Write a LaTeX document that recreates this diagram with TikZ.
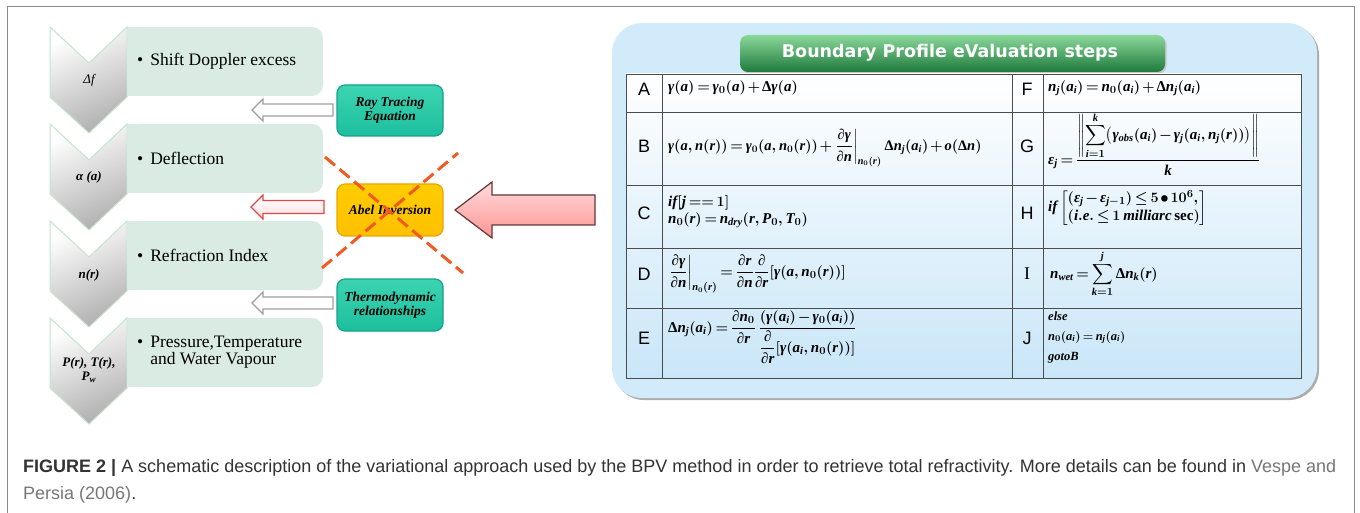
\documentclass[tikz,border=0pt]{standalone}
\usepackage{fontspec}
\usepackage{amsmath}
\setmainfont{Liberation Serif}
\setsansfont{Liberation Sans}
\newfontfamily\titlefont{DejaVu Sans}
\makeatletter
\edef\tmfam{\rmdefault}
\DeclareSymbolFont{tlet}{TU}{\tmfam}{b}{it}
\SetSymbolFont{tlet}{bold}{TU}{\tmfam}{b}{it}
\DeclareSymbolFont{tup}{TU}{\tmfam}{b}{n}
\SetSymbolFont{tup}{bold}{TU}{\tmfam}{b}{n}
\newcount\mycnt
\mycnt=`a\relax
\loop \Umathcode\mycnt=7 \symtlet \mycnt\relax \ifnum\mycnt<`z\relax \advance\mycnt 1\relax \repeat
\mycnt=`A\relax
\loop \Umathcode\mycnt=7 \symtlet \mycnt\relax \ifnum\mycnt<`Z\relax \advance\mycnt 1\relax \repeat
\Umathchardef\mgamma=7 \symtlet "03B3\relax
\Umathchardef\meps=7 \symtlet "03B5\relax
\Umathchardef\mDelta=0 \symtup "0394\relax
\Umathchardef\mpartial=0 \symtlet "2202\relax
\makeatother
\newcommand\fsp{\thickmuskip=3mu\relax\medmuskip=2mu\relax}
\definecolor{boxgreen}{HTML}{D9EBE2}
\definecolor{chevline}{HTML}{C4E4D2}
\definecolor{tealfill}{HTML}{1DBF9E}
\definecolor{tealtop}{HTML}{3CD4B2}
\definecolor{tealline}{HTML}{13A386}
\definecolor{goldfill}{HTML}{FFC000}
\definecolor{goldline}{HTML}{E8A600}
\definecolor{dashred}{HTML}{F05A24}
\definecolor{panelblue}{HTML}{D2EBFA}
\definecolor{tableblue}{HTML}{C9E6F8}
\definecolor{tabtop}{HTML}{8AD89A}
\definecolor{tabbot}{HTML}{1E7A3C}
\definecolor{framegray}{HTML}{8A8A8A}
\definecolor{captext}{HTML}{333333}
\definecolor{capgray}{HTML}{777777}
\definecolor{redline}{HTML}{E04848}
\begin{document}
\begin{tikzpicture}[x=1pt,y=-1pt,
  chev/.style={top color=white, bottom color=gray!62, shading angle=25, draw=chevline, line width=1},
  boxtext/.style={anchor=west, inner sep=0pt, font=\fontsize{17.5}{20}\selectfont, align=left},
  chevlabel/.style={inner sep=0pt, font=\fontsize{13}{16}\selectfont\bfseries\itshape, align=center},
  tealbox/.style={draw=tealline, line width=1.2, top color=tealtop, bottom color=tealfill, rounded corners=8, minimum width=106, minimum height=51, inner sep=0pt, align=center, font=\fontsize{13.5}{14}\selectfont\bfseries\itshape},
  hollow/.style={fill=white, draw=gray!75, line width=1.2, line join=miter},
  letter/.style={inner sep=0pt, font=\sffamily\fontsize{18}{20}\selectfont},
  formula/.style={anchor=west, inner sep=0pt, font=\fontsize{15}{18}\selectfont\boldmath, align=left},
  tline/.style={draw=black!70, line width=0.8},
  xdash/.style={draw=dashred, line width=3, dash pattern=on 13pt off 6pt},
  caption/.style={anchor=base west, inner sep=0pt, font=\sffamily\fontsize{18}{22}\selectfont, text=captext}
]
\useasboundingbox (0,0) rectangle (1360,513);
\fill[white] (0,0) rectangle (1360,513);
% frame
\draw[framegray, line width=1.2] (7.5,513) -- (7.5,6.5) -- (1354.5,6.5) -- (1354.5,513);

% green boxes
\foreach \y in {27,124,221,318}{
  \fill[boxgreen, rounded corners=11] (128,\y) rectangle (323,\y+69);
  \fill[boxgreen] (128,\y) rectangle (200,\y+69);
}
% chevrons
\foreach \y in {27,124,221,318}{
  \shade[chev] (50,\y) -- (89,\y+36) -- (127,\y) -- (127,\y+70) -- (89,\y+106) -- (50,\y+70) -- cycle;
}
\node[chevlabel, font=\fontsize{13}{16}\selectfont\itshape] (l1) at (89,80) {Δf};
\node[chevlabel] (l2) at (89,177) {α (a)};
\node[chevlabel] (l3) at (89,275) {n(r)};
\node[chevlabel] (l4) at (89,370) {P(r), T(r),\\[-2pt] P\textsubscript{w}};

\node[boxtext] (b1) at (137,61) {\textbullet\hspace{7pt}Shift Doppler excess};
\node[boxtext] (b2) at (137,158) {\textbullet\hspace{7pt}Deflection};
\node[boxtext] (b3) at (137,255) {\textbullet\hspace{7pt}Refraction Index};
\node[boxtext] (b4) at (137,352) {\begin{tabular}{@{}l@{\hspace{7pt}}l@{}}\textbullet & Pressure,Temperature\\[-3pt] & and Water Vapour\end{tabular}};

% hollow arrows
\draw[hollow] (333,104) -- (263,104) -- (263,99) -- (252,110) -- (263,121) -- (263,116) -- (333,116) -- cycle;
\draw[hollow, draw=redline, top color=white, bottom color=red!12] (324,200.5) -- (263,200.5) -- (263,195) -- (251,207) -- (263,219) -- (263,213.5) -- (324,213.5) -- cycle;
\draw[hollow] (333,297) -- (263,297) -- (263,292) -- (252,303) -- (263,314) -- (263,309) -- (333,309) -- cycle;

% teal / gold boxes
\node[tealbox] (ray) at (390,110.5) {Ray Tracing\\Equation};
\node[tealbox, draw=goldline, top color=goldfill!80!yellow, bottom color=goldfill, minimum height=52] (abel) at (390,210) {Abel Inversion};
\node[tealbox, minimum height=52] (thermo) at (390,305) {Thermodynamic\\relationships};

% red dashed cross
\draw[xdash] (325,157) -- (463,273);
\draw[xdash] (322,268) -- (458,153);

% big arrow
\draw[draw=gray!70!red!60!black, line width=1.2, top color=red!14, middle color=red!3, bottom color=red!42, line join=miter]
  (595,195) -- (492,195) -- (492,182) -- (455,210) -- (492,238) -- (492,225) -- (595,225) -- cycle;

% right panel
\fill[gray!65, rounded corners=30] (614,25) rectangle (1319,400);
\fill[panelblue, rounded corners=30] (612,23) rectangle (1317,398);
\fill[gray!45, rounded corners=8] (741.5,36.5) rectangle (1166.5,73.5);
\shade[top color=tabtop, bottom color=tabbot, rounded corners=8] (740,35) rectangle (1165,72);
\node[inner sep=0pt, text=white, font=\titlefont\bfseries\fontsize{17.5}{20}\selectfont] (title) at (950,53) {Boundary Profile eValuation steps};

% table
\shade[top color=white, middle color=white, bottom color=tableblue] (626,74) rectangle (1301,378);
\draw[tline] (626,74) rectangle (1301,378);
\foreach \yy in {112,185,248,308}{\draw[tline] (626,\yy) -- (1301,\yy);}
\foreach \xx in {662,1012,1043}{\draw[tline] (\xx,74) -- (\xx,378);}

\node[letter] (A) at (644,89) {A};
\node[letter] (B) at (644,146) {B};
\node[letter] (C) at (644,213) {C};
\node[letter] (D) at (644,274) {D};
\node[letter] (E) at (644,338) {E};
\node[letter] (F) at (1027,89) {F};
\node[letter] (G) at (1027,146) {G};
\node[letter] (H) at (1027,213) {H};
\node[letter, font=\rmfamily\fontsize{18}{20}\selectfont] (I) at (1027,274) {I};
\node[letter] (J) at (1027,338) {J};

\node[formula] (fA) at (668,88) {\fsp$\mgamma(a)=\mgamma_0(a)+\mDelta\mgamma(a)$};
\node[formula, font=\fontsize{14.5}{18}\selectfont\boldmath] (fB) at (668,148) {\fsp$\mgamma(a,n(r))=\mgamma_0(a,n_0(r))+\left.\dfrac{\mpartial\mgamma}{\mpartial n}\right|_{n_0(r)}\mDelta n_j(a_i)+o(\mDelta n)$};
\node[formula] (fC) at (668,212) {\fsp$if[j==1]$\\[-1pt]\fsp$n_0(r)=n_{dry}(r,P_0,T_0)$};
\node[formula] (fD) at (668,274) {\fsp$\left.\dfrac{\mpartial\mgamma}{\mpartial n}\right|_{n_0(r)}=\dfrac{\mpartial r}{\mpartial n}\dfrac{\mpartial}{\mpartial r}[\mgamma(a,n_0(r))]$};
\node[formula] (fE) at (668,337) {\fsp$\mDelta n_j(a_i)=\dfrac{\mpartial n_0}{\mpartial r}\,\dfrac{(\mgamma(a_i)-\mgamma_0(a_i))}{\dfrac{\mpartial}{\mpartial r}[\mgamma(a_i,n_0(r))]}$};
\node[formula] (fF) at (1048,88) {\fsp$n_j(a_i)=n_0(a_i)+\mDelta n_j(a_i)$};
\node[formula] (fG) at (1048,144) {\fsp$\meps_j=\dfrac{\left\|\displaystyle\sum_{i=1}^{k}\bigl(\mgamma_{obs}(a_i)-\mgamma_j(a_i,n_j(r))\bigr)\right\|}{k}$};
\node[formula] (fH) at (1048,208) {\fsp$if\left[\begin{array}{@{}l@{}}(\meps_j-\meps_{j-1})\le 5\bullet 10^6,\\ (i.e.\le 1\,milliarc\,\mathrm{sec})\end{array}\right]$};
\node[formula] (fI) at (1050,274) {\fsp$\displaystyle n_{wet}=\sum_{k=1}^{j}\mDelta n_k(r)$};
\node[formula, font=\fontsize{12.5}{20}\selectfont\boldmath] (fJ) at (1048,337) {\fsp$else$\\\fsp$n_0(a_i)=n_j(a_i)$\\$gotoB$};

% caption
\node[caption] (cap1) at (23,472) {\textbf{FIGURE 2 |} A schematic description of the variational approach used by the BPV method in order to retrieve total refractivity. More details can be found in \textcolor{capgray}{Vespe and}};
\node[caption] (cap2) at (23,499) {\textcolor{capgray}{Persia (2006)}.};
\end{tikzpicture}
\end{document}
